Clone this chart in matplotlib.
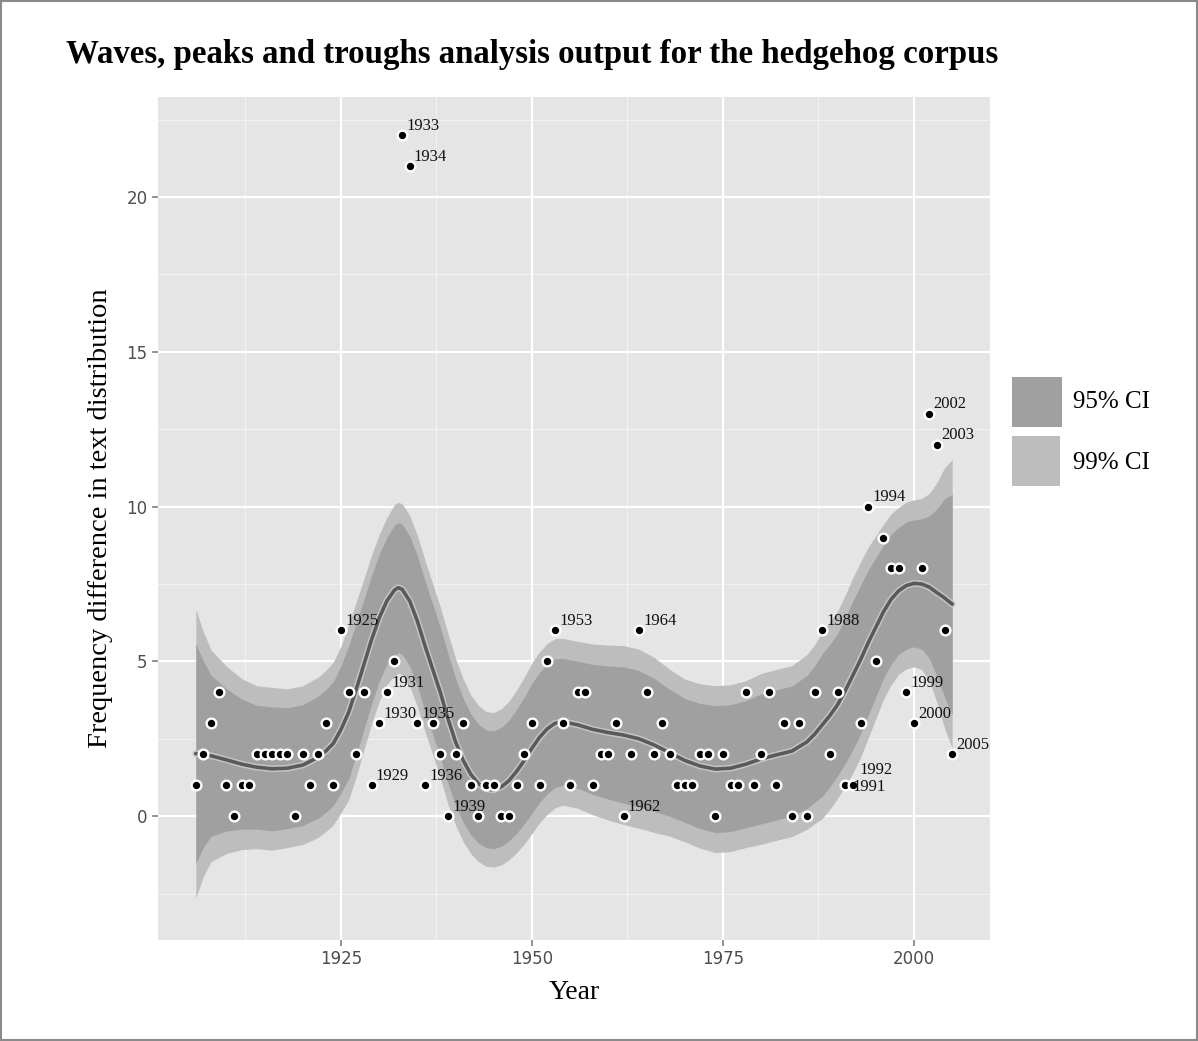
import matplotlib
matplotlib.use("Agg")
import matplotlib.pyplot as plt
from matplotlib.patches import Rectangle
import numpy as np

# ---------------- data ----------------
years = list(range(1906, 2006))
values = [1, 2, 3, 4, 1, 0, 1, 1, 2, 2, 2, 2, 2, 0, 2, 1, 2, 3, 1, 6,
          4, 2, 4, 1, 3, 4, 5, 22, 21, 3, 1, 3, 2, 0, 2, 3, 1, 0, 1, 1,
          0, 0, 1, 2, 3, 1, 5, 6, 3, 1, 4, 4, 1, 2, 2, 3, 0, 2, 6, 4,
          2, 3, 2, 1, 1, 1, 2, 2, 0, 2, 1, 1, 4, 1, 2, 4, 1, 3, 0, 3,
          0, 4, 6, 2, 4, 1, 1, 3, 10, 5, 9, 8, 8, 4, 3, 8, 13, 12, 6, 2]

labelled_years = [1925, 1929, 1930, 1931, 1933, 1934, 1935, 1936, 1939, 1953,
                  1962, 1964, 1988, 1991, 1992, 1994, 1999, 2000, 2002, 2003, 2005]

# smoothed fit and half-width of the 95% band
fit_years = [1906, 1907, 1908, 1910, 1912, 1914, 1916, 1918, 1920, 1922, 1923,
             1924, 1925, 1926, 1927, 1928, 1929, 1930, 1931, 1932, 1932.5, 1933,
             1934, 1935, 1936, 1937, 1938, 1939, 1940, 1941, 1942, 1943, 1944,
             1945, 1946, 1947, 1948, 1949, 1950, 1951, 1952, 1953, 1954, 1956,
             1958, 1960, 1962, 1964, 1966, 1968, 1970, 1972, 1974, 1976, 1978,
             1980, 1982, 1984, 1986, 1987, 1988, 1989, 1990, 1991, 1992, 1993,
             1994, 1995, 1996, 1997, 1998, 1999, 2000, 2001, 2002, 2003, 2004, 2005]
fit_values = [2.02, 2.0, 1.95, 1.82, 1.68, 1.58, 1.53, 1.55, 1.65, 1.9, 2.1,
              2.35, 2.8, 3.35, 4.1, 4.9, 5.7, 6.4, 6.95, 7.3, 7.38, 7.33,
              6.95, 6.3, 5.5, 4.75, 4.0, 3.15, 2.4, 1.8, 1.35, 1.05, 0.88,
              0.85, 0.95, 1.15, 1.45, 1.8, 2.2, 2.55, 2.82, 3.0, 3.05, 2.95,
              2.8, 2.7, 2.62, 2.5, 2.3, 2.05, 1.8, 1.62, 1.52, 1.55, 1.68,
              1.85, 1.98, 2.1, 2.4, 2.65, 2.95, 3.25, 3.6, 4.05, 4.55, 5.05,
              5.6, 6.1, 6.6, 7.0, 7.28, 7.45, 7.52, 7.5, 7.4, 7.22, 7.05, 6.85]
half95 = [3.55, 3.0, 2.6, 2.3, 2.1, 2.0, 2.0, 1.95, 1.95, 1.97, 1.98,
          2.0, 2.05, 2.15, 2.15, 2.1, 2.08, 2.05, 2.05, 2.1, 2.1, 2.1,
          2.1, 2.1, 2.1, 2.1, 2.1, 2.1, 2.05, 2.0, 1.95, 1.92, 1.9,
          1.9, 1.92, 1.95, 2.0, 2.05, 2.1, 2.1, 2.1, 2.08, 2.05, 2.05,
          2.1, 2.15, 2.2, 2.2, 2.15, 2.05, 2.0, 2.02, 2.05, 2.05, 2.05,
          2.1, 2.1, 2.1, 2.15, 2.2, 2.3, 2.3, 2.3, 2.35, 2.4, 2.4,
          2.35, 2.25, 2.15, 2.1, 2.05, 2.05, 2.05, 2.1, 2.3, 2.7, 3.2, 3.55]

x_ticks = [1925, 1950, 1975, 2000]
y_ticks = [0, 5, 10, 15, 20]

# ---------------- style ----------------
SERIF = ["Liberation Serif", "DejaVu Serif"]
panel_bg = "#e5e5e5"
dark_band = "#a0a0a0"
light_band = "#bdbdbd"

fig = plt.figure(figsize=(11.98, 10.41), dpi=100)
fig.patch.set_facecolor("white")
fig.add_artist(Rectangle((0.0008, 0.001), 0.9984, 0.998, transform=fig.transFigure,
                         fill=False, edgecolor="#8a8a8a", linewidth=1.5))

ax = fig.add_axes([158 / 1198, 1 - 940 / 1041, (990 - 158) / 1198, (940 - 97) / 1041])
ax.set_facecolor(panel_bg)
for s in ax.spines.values():
    s.set_visible(False)

ax.set_xlim(1901.05, 2009.95)
ax.set_ylim(-4.0, 23.23)

# grid
for xm in [1912.5, 1937.5, 1962.5, 1987.5]:
    ax.axvline(xm, color="#f2f2f2", lw=0.8, zorder=0)
for ym in [-2.5, 2.5, 7.5, 12.5, 17.5, 22.5]:
    ax.axhline(ym, color="#f2f2f2", lw=0.8, zorder=0)
for xm in x_ticks:
    ax.axvline(xm, color="white", lw=1.6, zorder=0)
for ym in y_ticks:
    ax.axhline(ym, color="white", lw=1.6, zorder=0)

fx = np.array(fit_years, dtype=float)
fy = np.array(fit_values)
h95 = np.array(half95)
h99 = h95 * 2.576 / 1.96

ax.fill_between(fx, fy - h99, fy + h99, color=light_band, lw=0, zorder=1)
ax.fill_between(fx, fy - h95, fy + h95, color=dark_band, lw=0, zorder=2)
ax.plot(fx, fy, color="#c4c4c4", lw=4.8, zorder=3, solid_capstyle="round")
ax.plot(fx, fy, color="#5a5a5a", lw=2.6, zorder=4, solid_capstyle="round")

ax.plot(years, values, linestyle="none", marker="o", ms=7, mfc="black",
        mec="white", mew=1.7, zorder=5)

label_offsets = {1992: (5, 11), 1991: (5, -1)}
for yr, v in zip(years, values):
    if yr in labelled_years:
        dx, dy = label_offsets.get(yr, (3, 1))
        ax.annotate(str(yr), (yr, v), xytext=(dx, dy), textcoords="offset points",
                    fontsize=12, family=SERIF, color="#111111",
                    ha="left", va="bottom" if yr not in label_offsets else "center",
                    zorder=6)

ax.set_xticks(x_ticks)
ax.set_yticks(y_ticks)
ax.tick_params(axis="both", colors="#7f7f7f", length=4, width=1.2,
               labelsize=12, labelcolor="#4d4d4d")
for lab in ax.get_xticklabels() + ax.get_yticklabels():
    lab.set_family(["DejaVu Sans"])

ax.set_xlabel("Year", family=SERIF, fontsize=20, labelpad=8)
ax.set_ylabel("Frequency difference in text distribution", family=SERIF,
              fontsize=20.5, labelpad=10)

fig.text(66 / 1198, 1 - 55 / 1041, "Waves, peaks and troughs analysis output for the hedgehog corpus",
         family=SERIF, fontweight="bold", fontsize=23.7, ha="left", va="center")

# legend
fig.add_artist(Rectangle((1012 / 1198, 1 - 427 / 1041), 50 / 1198, 50 / 1041,
                         transform=fig.transFigure, color=dark_band, lw=0))
fig.add_artist(Rectangle((1012 / 1198, 1 - 486 / 1041), 48 / 1198, 50 / 1041,
                         transform=fig.transFigure, color=light_band, lw=0))
fig.text(1073 / 1198, 1 - 402 / 1041, "95% CI", family=SERIF, fontsize=18,
         ha="left", va="center")
fig.text(1073 / 1198, 1 - 463 / 1041, "99% CI", family=SERIF, fontsize=18,
         ha="left", va="center")

fig.savefig("out.png", dpi=100)
